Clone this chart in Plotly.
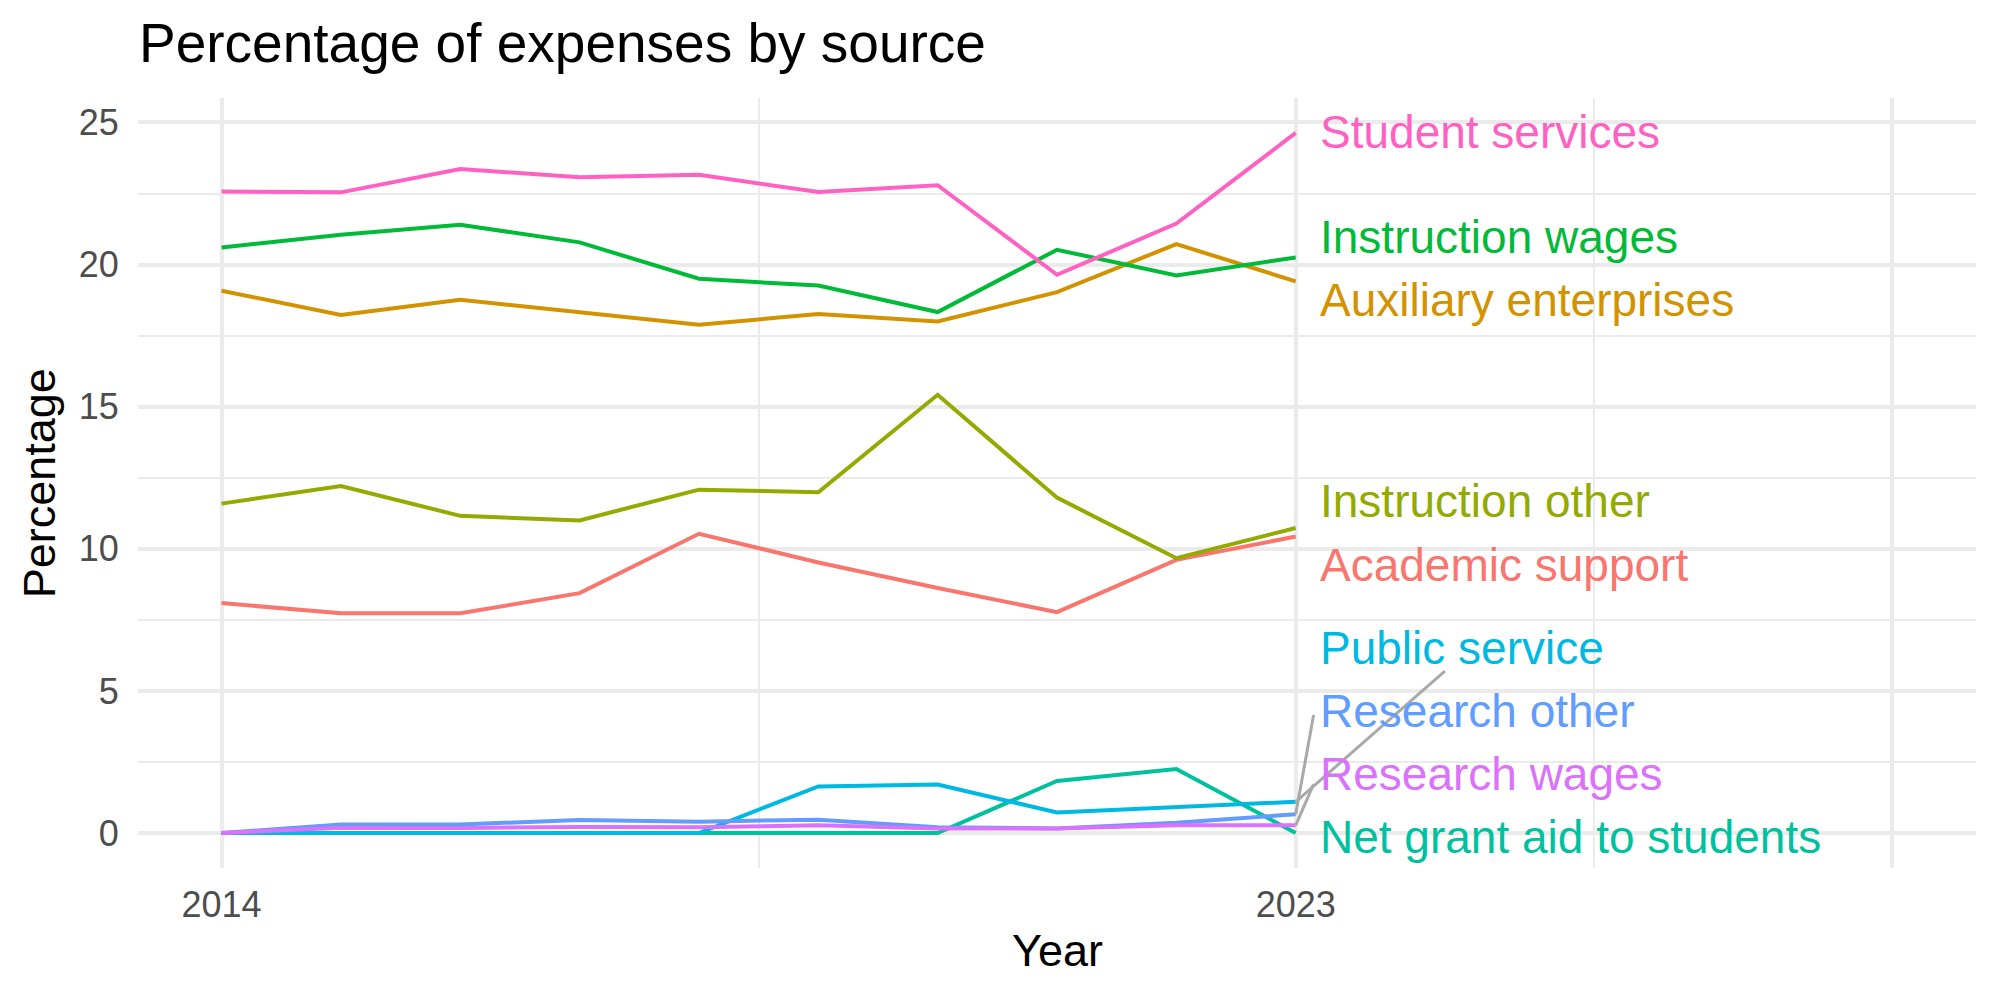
import plotly.graph_objects as go

# ---------------- data ----------------
years = [2014, 2015, 2016, 2017, 2018, 2019, 2020, 2021, 2022, 2023]

categories = [
    "Academic support",
    "Auxiliary enterprises",
    "Instruction other",
    "Instruction wages",
    "Net grant aid to students",
    "Public service",
    "Research other",
    "Research wages",
    "Student services",
]

academic_support = [8.09, 7.73, 7.73, 8.44, 10.53, 9.52, 8.62, 7.77, 9.61, 10.43]
auxiliary_enterprises = [19.08, 18.23, 18.76, 18.33, 17.88, 18.26, 18.00, 19.03, 20.72, 19.41]
instruction_other = [11.59, 12.21, 11.16, 11.00, 12.08, 11.99, 15.42, 11.80, 9.67, 10.73]
instruction_wages = [20.60, 21.05, 21.40, 20.78, 19.50, 19.26, 18.33, 20.52, 19.62, 20.25]
net_grant_aid = [0.0, 0.0, 0.0, 0.0, 0.0, 0.0, 0.0, 1.83, 2.25, 0.0]
public_service = [0.0, 0.0, 0.0, 0.0, 0.0, 1.64, 1.71, 0.72, 0.90, 1.10]
research_other = [0.0, 0.30, 0.30, 0.46, 0.40, 0.47, 0.20, 0.16, 0.36, 0.66]
research_wages = [0.0, 0.19, 0.18, 0.21, 0.20, 0.27, 0.16, 0.16, 0.27, 0.27]
student_services = [22.57, 22.54, 23.36, 23.07, 23.16, 22.55, 22.79, 19.64, 21.44, 24.63]

series_values = [
    academic_support, auxiliary_enterprises, instruction_other, instruction_wages,
    net_grant_aid, public_service, research_other, research_wages, student_services,
]

colors = ["#F8766D", "#D39200", "#93AA00", "#00BA38", "#00C19F",
          "#00B9E3", "#619CFF", "#DB72FB", "#FF61C3"]

# repelled label positions (y, data units)
label_x = 2023.19
label_y = [9.43, 18.74, 11.67, 20.97, -0.14, 6.52, 4.30, 2.07, 24.65]

# connector segments: category -> end point of the segment (data units)
segment_ends = {
    "Public service": (2024.25, 5.70),
    "Research other": (2023.15, 4.15),
    "Research wages": (2023.15, 1.72),
}

x_major = [2014, 2023, 2028]
x_major_text = ["2014", "2023", ""]
x_minor = [2018.5, 2025.5]
y_major = [0, 5, 10, 15, 20, 25]
y_minor = [2.5, 7.5, 12.5, 17.5, 22.5]

# ---------------- figure ----------------
FONT = "Liberation Sans, Arial, Helvetica, sans-serif"
GRID = "#EBEBEB"

fig = go.Figure()

for name, vals, col in zip(categories, series_values, colors):
    fig.add_trace(go.Scatter(
        x=years, y=vals, mode="lines", name=name,
        line=dict(color=col, width=4), hoverinfo="skip", showlegend=False,
    ))

for name, (ex, ey) in segment_ends.items():
    i = categories.index(name)
    fig.add_trace(go.Scatter(
        x=[years[-1], ex], y=[series_values[i][-1], ey], mode="lines",
        line=dict(color="#A9A9A9", width=3), hoverinfo="skip", showlegend=False,
    ))

annotations = []
for name, ly, col in zip(categories, label_y, colors):
    annotations.append(dict(
        x=label_x, y=ly, xref="x", yref="y", text=name, showarrow=False,
        xanchor="left", yanchor="middle", font=dict(family=FONT, size=46, color=col),
    ))

annotations.append(dict(
    x=-0.0005, y=1.0712, xref="paper", yref="paper", text="Percentage of expenses by source",
    showarrow=False, xanchor="left", yanchor="middle",
    font=dict(family=FONT, size=55, color="black"),
))
annotations.append(dict(
    x=0.5, y=-0.1065, xref="paper", yref="paper", text="Year", showarrow=False,
    xanchor="center", yanchor="middle", font=dict(family=FONT, size=45, color="black"),
))
annotations.append(dict(
    x=-0.0537, y=0.5, xref="paper", yref="paper", text="Percentage", showarrow=False,
    textangle=-90, xanchor="center", yanchor="middle",
    font=dict(family=FONT, size=45, color="black"),
))

fig.update_layout(
    width=2000, height=1000,
    margin=dict(l=138, r=24, t=98, b=132),
    plot_bgcolor="white", paper_bgcolor="white",
    font=dict(family=FONT),
    showlegend=False,
    annotations=annotations,
    xaxis=dict(
        range=[2013.3, 2028.7], tickmode="array", tickvals=x_major, ticktext=x_major_text,
        showgrid=True, gridcolor=GRID, gridwidth=3.6, zeroline=False, showline=False,
        ticks="outside", ticklen=5, tickcolor="rgba(0,0,0,0)",
        tickfont=dict(family=FONT, size=36, color="#4D4D4D"),
        minor=dict(tickmode="array", tickvals=x_minor, showgrid=True, gridcolor=GRID, gridwidth=1.8),
    ),
    yaxis=dict(
        range=[-1.23, 25.86], tickmode="array", tickvals=y_major,
        showgrid=True, gridcolor=GRID, gridwidth=3.6, zeroline=False, showline=False,
        ticks="outside", ticklen=11, tickcolor="rgba(0,0,0,0)",
        tickfont=dict(family=FONT, size=36, color="#4D4D4D"),
        minor=dict(tickmode="array", tickvals=y_minor, showgrid=True, gridcolor=GRID, gridwidth=1.8),
    ),
)

fig.write_html("out.html")
